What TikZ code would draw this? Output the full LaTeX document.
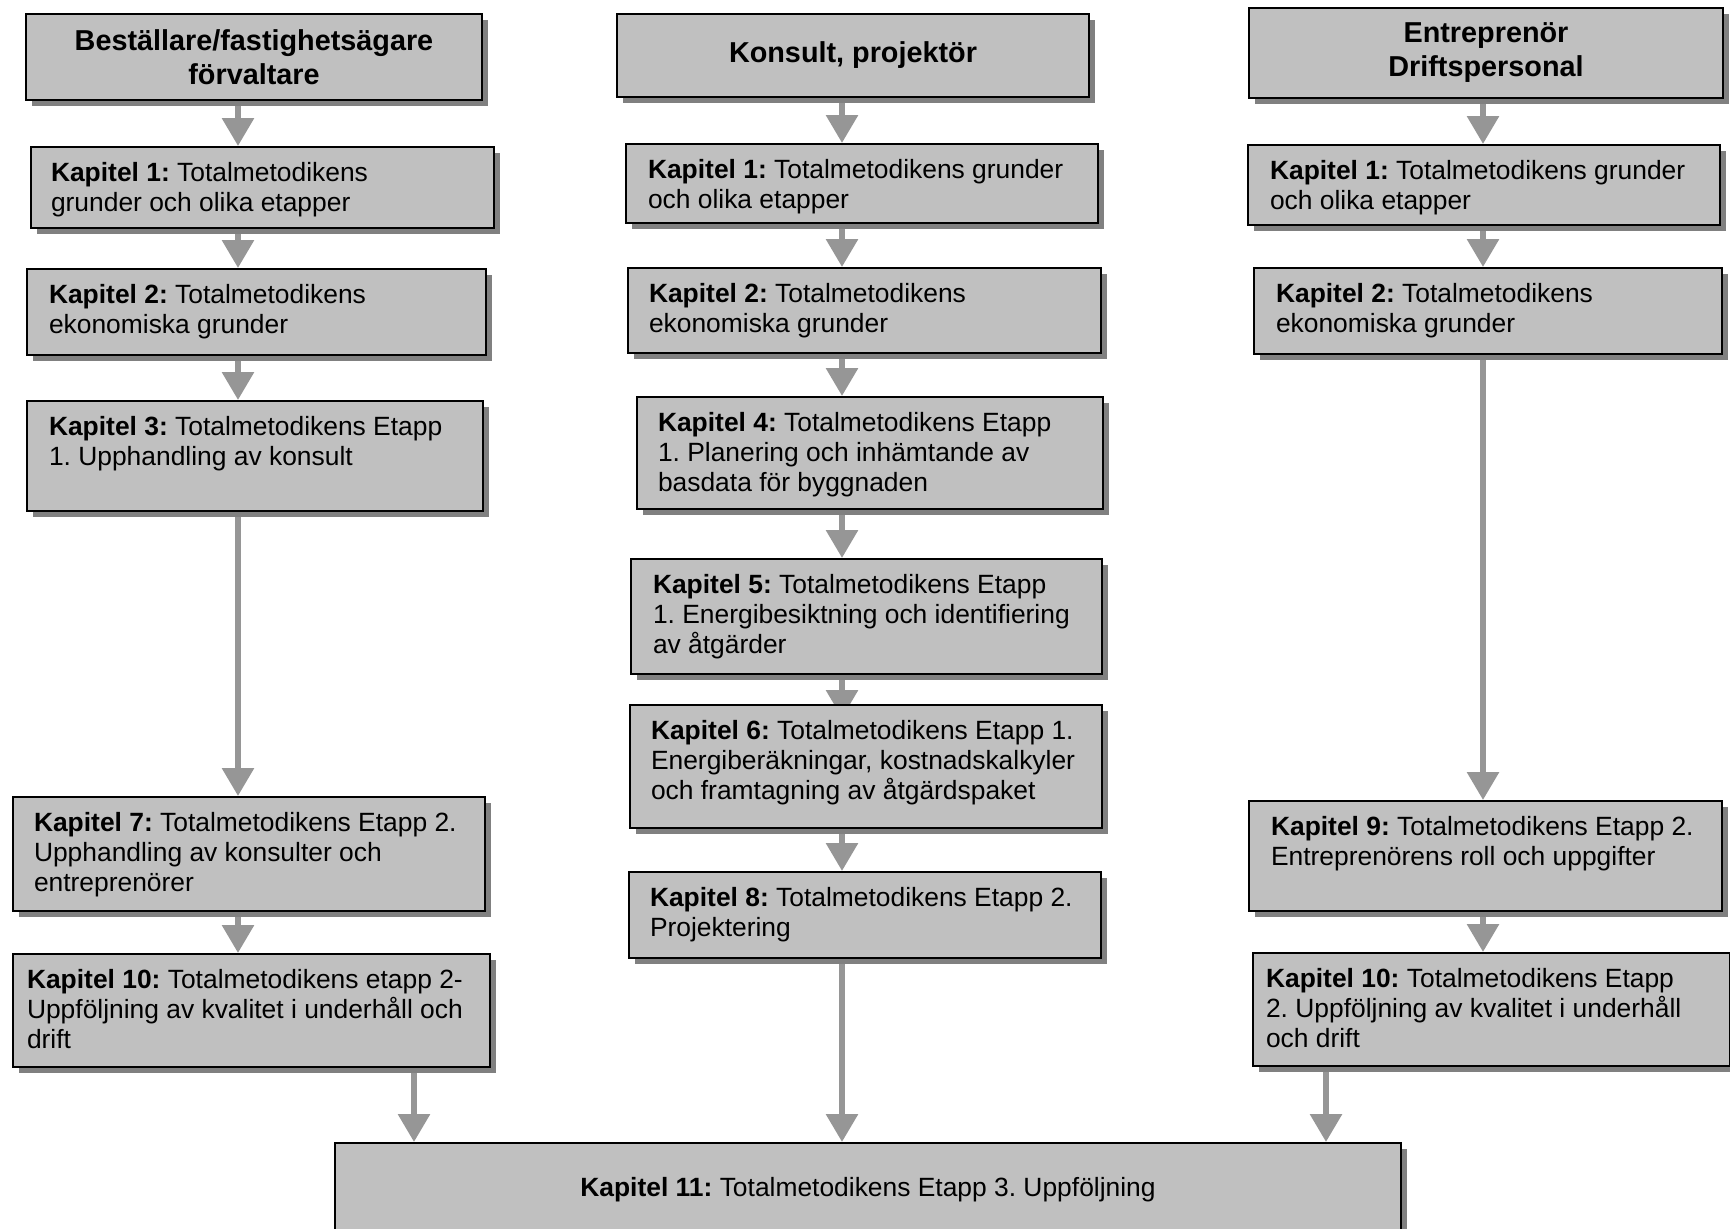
\documentclass[tikz,border=0pt]{standalone}
\usepackage{fontspec}
\setmainfont{Liberation Sans}
\frenchspacing
\usetikzlibrary{arrows.meta,shadows,backgrounds}
\definecolor{boxfill}{RGB}{192,192,192}
\definecolor{arrowc}{RGB}{150,150,150}
\definecolor{shadowc}{RGB}{128,128,128}
\newcommand{\bodyfont}{\fontsize{13.2pt}{15.2pt}\selectfont}
\newcommand{\headfont}{\fontsize{14.4pt}{17pt}\selectfont\bfseries}
% name, left, top, right, bottom, padx (px), text
\newcommand{\kb}[7]{\node[kbox] (#1) at (#2,#3) {\parbox[t][\dimexpr(#5pt-#3pt)/2\relax][t]{\dimexpr(#4pt-#2pt)/2\relax}{\frenchspacing\raggedright\leftskip=\dimexpr #6pt/2\relax\rule{0pt}{17pt}#7}};}
% name, left, top, right, bottom, text
\newcommand{\hb}[6]{\node[hbox, minimum width={(#4-#2)*0.5pt}, minimum height={(#5-#3)*0.5pt}] (#1) at ({(#2+#4)/2},{(#3+#5)/2}) {#6};}
\tikzset{
  boxbase/.style={draw=black, line width=1pt, fill=boxfill,
    drop shadow={shadow xshift=3pt, shadow yshift=-3pt, fill=shadowc, opacity=1}},
  kbox/.style={boxbase, anchor=north west, inner sep=0pt, font=\bodyfont},
  hbox/.style={boxbase, anchor=center, inner sep=0pt, align=center, font=\headfont},
  arr/.style={draw=arrowc, line width=3pt, -{Triangle[width=15.5pt,length=14pt]}},
}
\begin{document}
\begin{tikzpicture}[x=0.5pt, y=-0.5pt]
\useasboundingbox (0,0) rectangle (1730,1228);
\coordinate (ax1) at (238,0);
\coordinate (ax2) at (842,0);
\coordinate (ax3) at (1483,0);
\coordinate (bx1) at (414,0);
\coordinate (bx3) at (1326,0);
% left column
\hb{H1}{26}{14}{482}{100}{Beställare/fastighetsägare\\förvaltare}
\kb{L1}{30}{146}{493}{227}{20}{\textbf{Kapitel 1:} Totalmetodikens\\grunder och olika etapper}
\kb{L2}{26}{268}{485}{354}{22}{\textbf{Kapitel 2:} Totalmetodikens\\ekonomiska grunder}
\kb{L3}{26}{400}{482}{510}{22}{\textbf{Kapitel 3:} Totalmetodikens Etapp\\1. Upphandling av konsult}
\kb{L7}{12}{796}{484}{910}{21}{\textbf{Kapitel 7:} Totalmetodikens Etapp 2.\\Upphandling av konsulter och\\entreprenörer}
\kb{L10}{12}{953}{489}{1066}{14}{\textbf{Kapitel 10:} Totalmetodikens etapp 2-\\Uppföljning av kvalitet i underhåll och\\drift}
% middle column
\hb{H2}{617}{14}{1089}{97}{Konsult, projektör}
\kb{M1}{625}{143}{1097}{222}{22}{\textbf{Kapitel 1:} Totalmetodikens grunder\\och olika etapper}
\kb{M2}{627}{267}{1100}{352}{21}{\textbf{Kapitel 2:} Totalmetodikens\\ekonomiska grunder}
\kb{M4}{636}{396}{1102}{508}{21}{\textbf{Kapitel 4:} Totalmetodikens Etapp\\1. Planering och inhämtande av\\basdata för byggnaden}
\kb{M5}{630}{558}{1101}{673}{22}{\textbf{Kapitel 5:} Totalmetodikens Etapp\\1. Energibesiktning och identifiering\\av åtgärder}
\kb{M6}{629}{704}{1101}{827}{21}{\textbf{Kapitel 6:} Totalmetodikens Etapp 1.\\Energiberäkningar, kostnadskalkyler\\och framtagning av åtgärdspaket}
\kb{M8}{628}{871}{1100}{957}{21}{\textbf{Kapitel 8:} Totalmetodikens Etapp 2.\\Projektering}
% right column
\hb{H3}{1249}{8}{1723}{98}{Entreprenör\\Driftspersonal}
\kb{R1}{1247}{144}{1719}{224}{22}{\textbf{Kapitel 1:} Totalmetodikens grunder\\och olika etapper}
\kb{R2}{1253}{267}{1721}{353}{22}{\textbf{Kapitel 2:} Totalmetodikens\\ekonomiska grunder}
\kb{R9}{1248}{800}{1721}{910}{22}{\textbf{Kapitel 9:} Totalmetodikens Etapp 2.\\Entreprenörens roll och uppgifter}
\kb{R10}{1252}{952}{1729}{1065}{13}{\textbf{Kapitel 10:} Totalmetodikens Etapp\\2. Uppföljning av kvalitet i underhåll\\och drift}
% bottom
\node[boxbase, anchor=center, inner sep=0pt, font=\bodyfont, minimum width={(1401-335)*0.5pt}, minimum height={(1237-1143)*0.5pt}] (K11) at ({(335+1401)/2},{(1143+1237)/2}) {\textbf{Kapitel 11:} Totalmetodikens Etapp 3. Uppföljning};
\begin{pgfonlayer}{background}
\draw[arr] (H1.south -| ax1) -- (L1.north -| ax1);
\draw[arr] (L1.south -| ax1) -- (L2.north -| ax1);
\draw[arr] (L2.south -| ax1) -- (L3.north -| ax1);
\draw[arr] (L3.south -| ax1) -- (L7.north -| ax1);
\draw[arr] (L7.south -| ax1) -- (L10.north -| ax1);
\draw[arr] (L10.south -| bx1) -- (K11.north -| bx1);
\draw[arr] (H2.south -| ax2) -- (M1.north -| ax2);
\draw[arr] (M1.south -| ax2) -- (M2.north -| ax2);
\draw[arr] (M2.south -| ax2) -- (M4.north -| ax2);
\draw[arr] (M4.south -| ax2) -- (M5.north -| ax2);
\draw[arr, shorten >=-7pt] (M5.south -| ax2) -- (M6.north -| ax2);
\draw[arr] (M6.south -| ax2) -- (M8.north -| ax2);
\draw[arr] (M8.south -| ax2) -- (K11.north -| ax2);
\draw[arr] (H3.south -| ax3) -- (R1.north -| ax3);
\draw[arr] (R1.south -| ax3) -- (R2.north -| ax3);
\draw[arr] (R2.south -| ax3) -- (R9.north -| ax3);
\draw[arr] (R9.south -| ax3) -- (R10.north -| ax3);
\draw[arr] (R10.south -| bx3) -- (K11.north -| bx3);
\end{pgfonlayer}
\end{tikzpicture}
\end{document}
